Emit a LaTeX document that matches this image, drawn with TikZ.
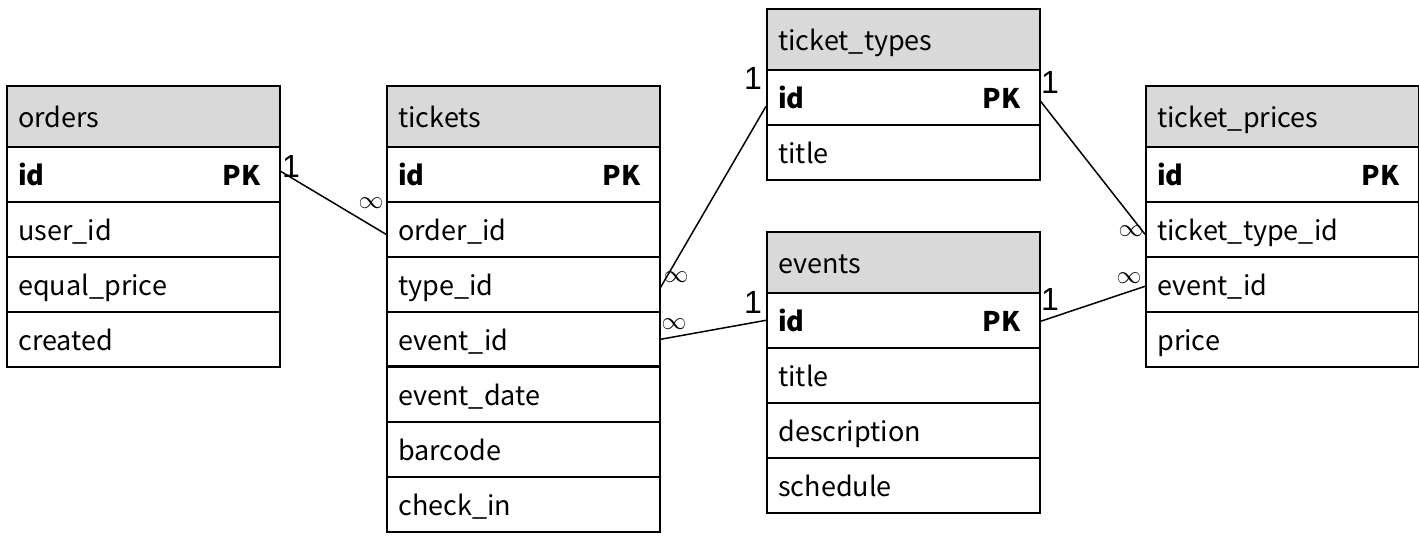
\documentclass[tikz,border=0pt]{standalone}
\usepackage{fontspec}
\setmainfont{Noto Sans CJK JP}
\newfontfamily\lblfam{Liberation Sans}
\definecolor{hdrgray}{HTML}{D9D9D9}
\newcommand{\tabfont}{\fontsize{27}{30}\selectfont}
\newcommand{\lblfont}{\lblfam\fontsize{32}{34}\selectfont}
\newcommand{\inffont}{\fontsize{24}{26}\selectfont}
\begin{document}
\begin{tikzpicture}[x=1pt,y=-1pt,
  cell/.style={draw, line width=1.6pt, text width=250pt, inner xsep=11.5pt, inner ysep=0pt,
    text height=24pt, text depth=2pt, align=left, anchor=north west, font=\tabfont},
  hdr/.style={cell, fill=hdrgray, minimum height=61pt},
  rowc/.style={cell, minimum height=55pt},
  pkc/.style={anchor=base east, inner sep=0pt, font=\tabfont\bfseries},
  conn/.style={line width=1.5pt},
  lbl/.style={inner sep=0pt, font=\lblfont},
  inf/.style={inner sep=0pt, font=\inffont}]
\useasboundingbox (0,0) rectangle (1419,537);
% orders
\node[hdr]  (oh) at (6,85) {orders};
\node[rowc] (oid) at (6,146) {\textbf{id}};
\node[rowc] (ouser) at (6,201) {user\_id};
\node[rowc] (oeq) at (6,256) {equal\_price};
\node[rowc] (ocr) at (6,311) {created};
\node[pkc] (opk) at ([xshift=-20pt]oid.base east) {PK};
% tickets
\node[hdr]  (th) at (386,85) {tickets};
\node[rowc] (tid) at (386,146) {\textbf{id}};
\node[rowc] (tord) at (386,201) {order\_id};
\node[rowc] (ttype) at (386,256) {type\_id};
\node[rowc] (tev) at (386,311) {event\_id};
\node[rowc] (tdate) at (386,366) {event\_date};
\node[rowc] (tbar) at (386,421) {barcode};
\node[rowc] (tchk) at (386,476) {check\_in};
\node[pkc] (tpk) at ([xshift=-20pt]tid.base east) {PK};
\draw[line width=2.8pt] (tdate.north west) -- (tdate.north east);
% ticket_types
\node[hdr]  (yh) at (766,8) {ticket\_types};
\node[rowc] (yid) at (766,69) {\textbf{id}};
\node[rowc] (ytitle) at (766,124) {title};
\node[pkc] (ypk) at ([xshift=-20pt]yid.base east) {PK};
% events
\node[hdr]  (eh) at (766,231) {events};
\node[rowc] (eid) at (766,292) {\textbf{id}};
\node[rowc] (etitle) at (766,347) {title};
\node[rowc] (edesc) at (766,402) {description};
\node[rowc] (esch) at (766,457) {schedule};
\node[pkc] (epk) at ([xshift=-20pt]eid.base east) {PK};
% ticket_prices
\node[hdr]  (ph) at (1145,85) {ticket\_prices};
\node[rowc] (pid) at (1145,146) {\textbf{id}};
\node[rowc] (ptt) at (1145,201) {ticket\_type\_id};
\node[rowc] (pev) at (1145,256) {event\_id};
\node[rowc] (ppr) at (1145,311) {price};
\node[pkc] (ppk) at ([xshift=-20pt]pid.base east) {PK};
% connectors
\draw[conn] ([yshift=3pt]oid.east) -- ([yshift=-5pt]tord.west);
\draw[conn] ([yshift=-3pt]ttype.east) -- ([yshift=-9pt]yid.west);
\draw[conn] ([yshift=0pt]tev.east) -- ([yshift=0pt]eid.west);
\draw[conn] ([yshift=-4pt]yid.east) -- ([yshift=-5pt]ptt.west);
\draw[conn] ([yshift=-1pt]eid.east) -- ([yshift=-2pt]pev.west);
% labels
\node[lbl] (l1) at (291,166) {1};
\node[inf] (l2) at (371,203) {$\infty$};
\node[inf] (l3) at (676,277) {$\infty$};
\node[lbl] (l4) at (753,78) {1};
\node[inf] (l5) at (674,324) {$\infty$};
\node[lbl] (l6) at (753,302) {1};
\node[lbl] (l7) at (1050,82) {1};
\node[inf] (l8) at (1131,231) {$\infty$};
\node[lbl] (l9) at (1050,299) {1};
\node[inf] (l10) at (1129,278) {$\infty$};
\end{tikzpicture}
\end{document}
